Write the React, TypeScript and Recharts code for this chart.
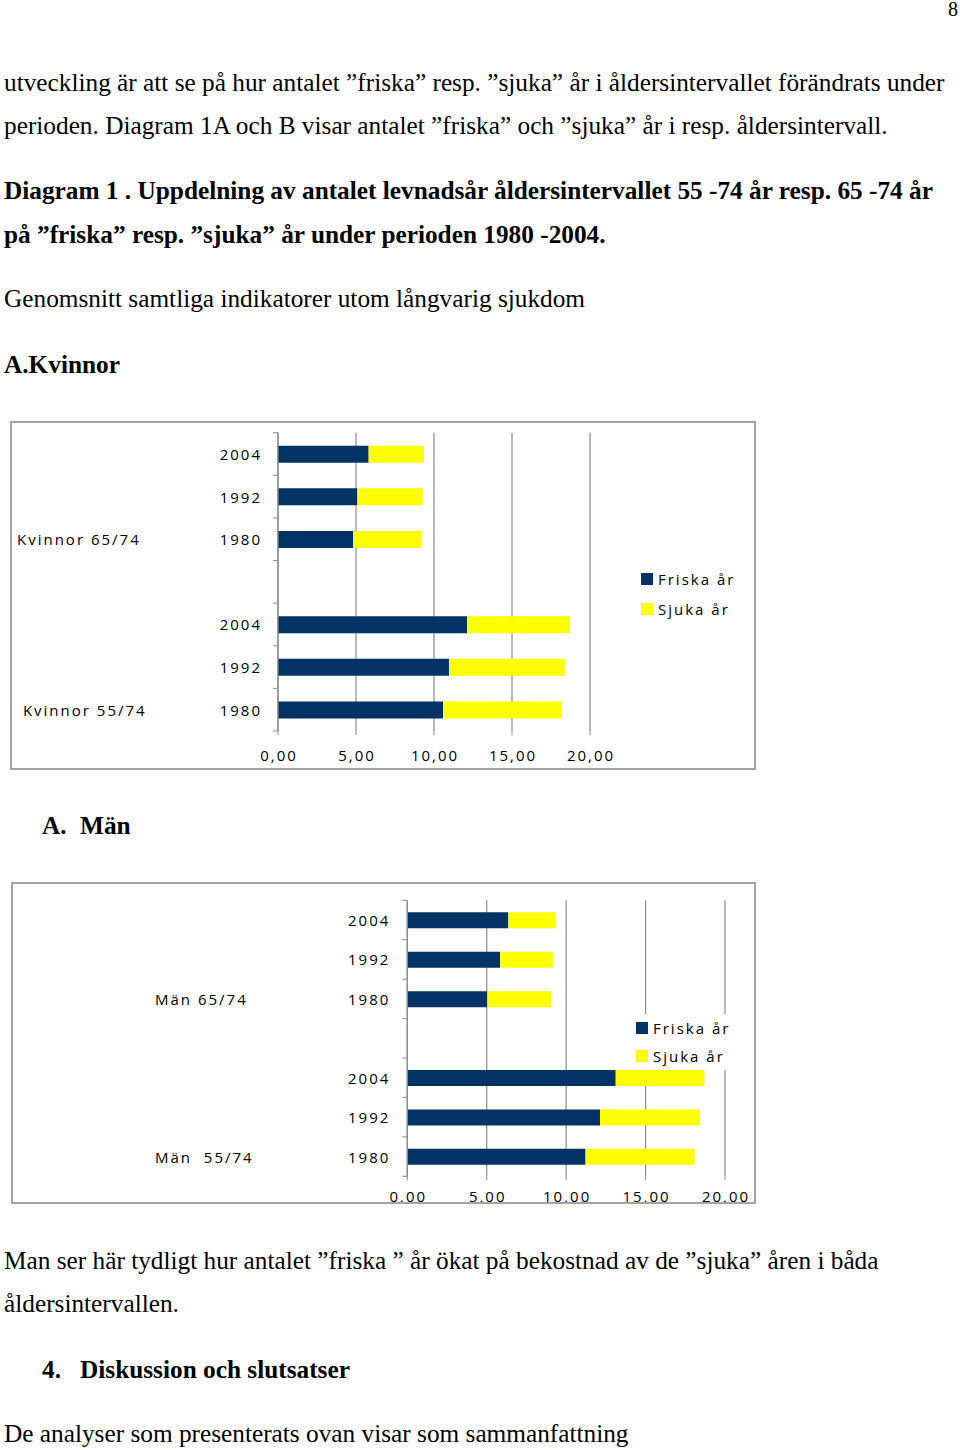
import React from 'react';
import { BarChart, Bar, XAxis, YAxis, CartesianGrid, Legend } from 'recharts';

// rows top to bottom, empty row separates the two age groups
const rowKeys = ['r0', 'r1', 'r2', 'r3', 'r4', 'r5', 'r6'];
const rowYears = ['2004', '1992', '1980', '', '2004', '1992', '1980'];
const kvinnorGroups = ['', '', 'Kvinnor 65/74', '', '', '', ' Kvinnor 55/74'];
const manGroups = ['', '', 'Män 65/74', '', '', '', 'Män  55/74'];

const kvinnorFriska = [5.81, 5.09, 4.81, null, 12.12, 10.96, 10.58];
const kvinnorSjuka = [3.55, 4.19, 4.36, null, 6.56, 7.42, 7.61];
const manFriska = [6.36, 5.84, 5.04, null, 13.12, 12.13, 11.22];
const manSjuka = [2.99, 3.32, 4.01, null, 5.58, 6.29, 6.86];

const xTicks = [0, 5, 10, 15, 20];

const NAVY = '#033264';
const YELLOW = '#ffff00';
const GRID = '#8c8c8c';
const CHART_FONT = '"Open Sans", sans-serif';

const buildRows = (friska: (number | null)[], sjuka: (number | null)[]) =>
  rowKeys.map((key, i) => ({ key, friska: friska[i], sjuka: sjuka[i] }));

const fmt = (v: number) => v.toFixed(2).replace('.', ',');

const textStyle = { fontFamily: CHART_FONT, fontSize: 15, letterSpacing: 2, whiteSpace: 'pre' as const };

const makeYTick = (groups: string[], band: number, yearGap: number, groupX: number) => (props: any) => {
  const { x, y, index } = props;
  const last = index === rowKeys.length - 1;
  return (
    <g>
      <line x1={x - 5} x2={x} y1={y - band / 2} y2={y - band / 2} stroke={GRID} />
      {last && <line x1={x - 5} x2={x} y1={y + band / 2} y2={y + band / 2} stroke={GRID} />}
      <text x={x - yearGap} y={y} textAnchor="end" dominantBaseline="central" fill="#000" style={textStyle}>
        {rowYears[index]}
      </text>
      {groups[index] && (
        <text x={groupX} y={y} textAnchor="start" dominantBaseline="central" fill="#000" style={textStyle}>
          {groups[index]}
        </text>
      )}
    </g>
  );
};

const makeXTick = (drop: number) => (props: any) => {
  const { x, y, payload } = props;
  return (
    <text x={x + 1} y={y + drop} textAnchor="middle" dominantBaseline="central" fill="#000" style={textStyle}>
      {fmt(payload.value)}
    </text>
  );
};

const makeLegend = (rowH: number) => (props: any) => (
  <div style={{ background: '#fff', paddingLeft: 5 }}>
    {(props.payload || []).map((p: any) => (
      <div key={p.value} style={{ height: rowH, display: 'flex', alignItems: 'center' }}>
        <span style={{ display: 'inline-block', width: 12, height: 12, background: p.color, marginRight: 5 }} />
        <span style={{ ...textStyle, color: '#000', lineHeight: '15px' }}>{p.value}</span>
      </div>
    ))}
  </div>
);

interface PanelProps {
  left: number;
  top: number;
  width: number;
  height: number;
  yAxisWidth: number;
  margin: { top: number; right: number; bottom: number; left: number };
  xAxisHeight: number;
  barSize: number;
  friska: (number | null)[];
  sjuka: (number | null)[];
  groups: string[];
  yearGap: number;
  groupX: number;
  xDrop: number;
  legendPos: { left: number; top: number };
  legendRow: number;
}

function Panel(p: PanelProps) {
  const data = buildRows(p.friska, p.sjuka);
  const plotH = p.height - p.margin.top - p.margin.bottom - p.xAxisHeight;
  const band = plotH / rowKeys.length;
  return (
    <>
      <div style={{ position: 'absolute', left: p.left, top: p.top, width: p.width, height: p.height, overflow: 'hidden' }}>
        <BarChart width={p.width} height={p.height} data={data} layout="vertical" margin={p.margin} barSize={p.barSize}>
          <CartesianGrid horizontal={false} stroke={GRID} strokeWidth={1.2} />
          <XAxis
            type="number"
            domain={[0, 20]}
            ticks={xTicks}
            axisLine={false}
            tickLine={{ stroke: GRID }}
            tickSize={4}
            tickMargin={0}
            height={p.xAxisHeight}
            tick={makeXTick(p.xDrop)}
            interval={0}
          />
          <YAxis
            type="category"
            dataKey="key"
            width={p.yAxisWidth}
            axisLine={{ stroke: GRID, strokeWidth: 1.2 }}
            tickLine={false}
            tickSize={0}
            tickMargin={0}
            interval={0}
            tick={makeYTick(p.groups, band, p.yearGap, p.groupX)}
          />
          <Bar dataKey="friska" name="Friska år" stackId="a" fill={NAVY} isAnimationActive={false} />
          <Bar dataKey="sjuka" name="Sjuka år" stackId="a" fill={YELLOW} isAnimationActive={false} />
          <Legend
            layout="vertical"
            align="center"
            verticalAlign="middle"
            content={makeLegend(p.legendRow)}
            wrapperStyle={{ left: p.legendPos.left, top: p.legendPos.top, width: 115, bottom: 'auto', right: 'auto' }}
          />
        </BarChart>
      </div>
      <div
        style={{
          position: 'absolute',
          left: p.left,
          top: p.top,
          width: p.width,
          height: p.height,
          border: '2px solid #a3a3a3',
          boxSizing: 'border-box',
          pointerEvents: 'none',
        }}
      />
    </>
  );
}

const F = 25.3;
function Line({ y, x = 4, bold = false, children }: { y: number; x?: number; bold?: boolean; children: React.ReactNode }) {
  return (
    <div
      style={{
        position: 'absolute',
        left: x,
        top: y - 0.8375 * F,
        fontFamily: '"Liberation Serif", "Times New Roman", serif',
        fontSize: F,
        lineHeight: `${F}px`,
        fontWeight: bold ? 700 : 400,
        whiteSpace: 'pre',
        color: '#000',
      }}
    >
      {children}
    </div>
  );
}

export default function App() {
  return (
    <div style={{ position: 'absolute', left: 0, top: 0, width: 960, height: 1450, background: '#fff', overflow: 'hidden' }}>
      <div style={{ position: 'absolute', right: 2, top: 0, fontFamily: '"Liberation Serif", serif', fontSize: 20, lineHeight: '18px' }}>8</div>

      <Line y={91}>utveckling är att se på hur antalet ”friska” resp. ”sjuka” år i åldersintervallet förändrats under</Line>
      <Line y={134}>perioden. Diagram 1A och B visar antalet ”friska” och ”sjuka” år i resp. åldersintervall.</Line>
      <Line y={199} bold>Diagram 1 . Uppdelning av antalet levnadsår åldersintervallet 55 -74 år resp. 65 -74 år</Line>
      <Line y={243} bold>på ”friska” resp. ”sjuka” år under perioden 1980 -2004.</Line>
      <Line y={307}>Genomsnitt samtliga indikatorer utom långvarig sjukdom</Line>
      <Line y={373} bold>A.Kvinnor</Line>

      <Panel
        left={10}
        top={421}
        width={746}
        height={349}
        yAxisWidth={268}
        margin={{ top: 11.7, right: 166, bottom: 9, left: 0 }}
        xAxisHeight={30}
        barSize={17}
        friska={kvinnorFriska}
        sjuka={kvinnorSjuka}
        groups={kvinnorGroups}
        yearGap={16}
        groupX={7}
        xDrop={20}
        legendPos={{ left: 626, top: 143 }}
        legendRow={30}
      />

      <Line y={834} x={42} bold>A.</Line>
      <Line y={834} x={80} bold>Män</Line>

      <Panel
        left={11}
        top={882}
        width={745}
        height={322}
        yAxisWidth={396.3}
        margin={{ top: 18.3, right: 31, bottom: 3.7, left: 0 }}
        xAxisHeight={24}
        barSize={16}
        friska={manFriska}
        sjuka={manSjuka}
        groups={manGroups}
        yearGap={17}
        groupX={144}
        xDrop={16}
        legendPos={{ left: 620, top: 132 }}
        legendRow={28}
      />

      <Line y={1269}>Man ser här tydligt hur antalet ”friska ” år ökat på bekostnad av de ”sjuka” åren i båda</Line>
      <Line y={1312}>åldersintervallen.</Line>
      <Line y={1378} x={42} bold>4.</Line>
      <Line y={1378} x={80} bold>Diskussion och slutsatser</Line>
      <Line y={1442}>De analyser som presenterats ovan visar som sammanfattning</Line>
    </div>
  );
}
